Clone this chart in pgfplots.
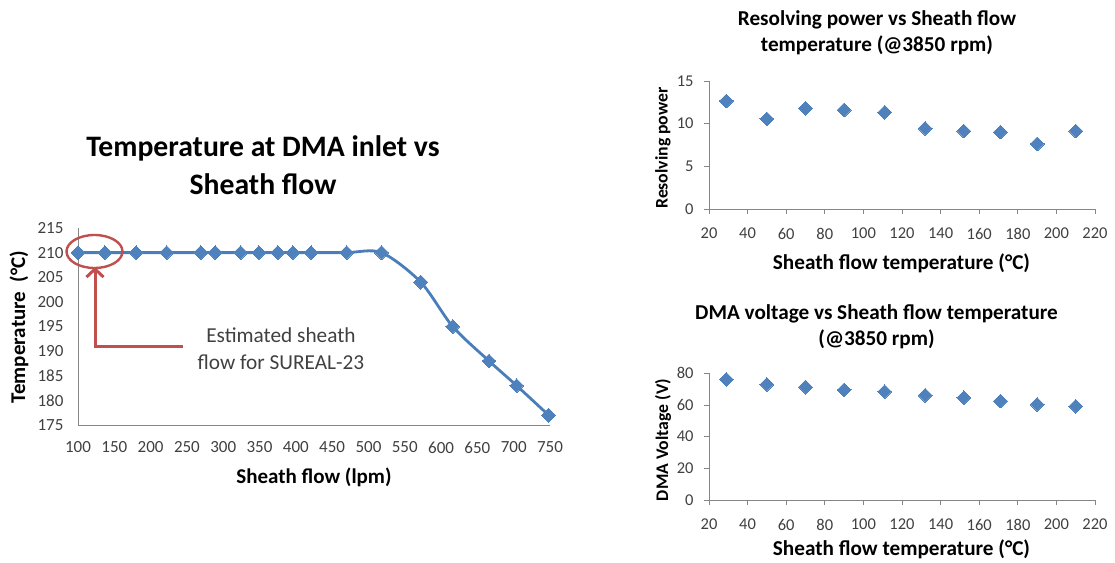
\documentclass[border=0pt]{standalone}
\usepackage{fontspec}
\setmainfont{Carlito}
\usepackage{pgfplots}
\pgfplotsset{compat=1.18}
\usetikzlibrary{arrows.meta}
\definecolor{xlblue}{HTML}{4F81BD}
\definecolor{xlline}{HTML}{4A7EBB}
\definecolor{xlred}{HTML}{C0504D}
\definecolor{axgray}{HTML}{868686}
\definecolor{txt}{HTML}{404040}

\pgfplotsset{xlbase/.style={
  scale only axis, anchor=south west,
  axis x line*=bottom, axis y line*=left,
  axis line style={axgray, line width=0.8pt},
  /pgf/number format/assume math mode=true,
  ticklabel style={font=\fontsize{16.5}{16.5}\selectfont, text=txt},
  tick style={axgray, line width=0.8pt},
  tick align=outside,
  major tick length=5pt,
  clip=false,
}}
\pgfplotsset{xlmark/.style={mark=square*, mark size=4.9pt,
  mark options={rotate=45, fill=xlblue, draw=xlblue, line width=0pt, solid}}}

\pgfplotstableread{
x y
100 210
137 210
180 210
222 210
269 210
289 210
324 210
349 210
375 210
396 210
421 210
470 210
518 210
572 204
616 195
666 188
704 183
748 177
}\flowdata

\pgfplotstableread{
x y
29 12.66
50 10.55
70 11.8
90 11.6
111 11.33
132 9.45
152 9.14
171 9.02
190 7.62
210 9.14
}\resdata

\pgfplotstableread{
x y
29 76.2
50 73.0
70 71.3
90 69.5
111 68.4
132 66.1
152 64.6
171 62.5
190 60.4
210 59.2
}\voltdata

\begin{document}
\begin{tikzpicture}
\path[use as bounding box] (0,0) rectangle (1115pt,562pt);

% ---------- left chart ----------
\begin{axis}[xlbase,
  at={(78pt,137pt)}, width=472pt, height=197pt,
  xmin=100, xmax=750, ymin=175, ymax=215,
  xtick={100,150,...,750}, ytick={175,180,...,215},
  major tick length=0pt,
  ticklabel style={font=\fontsize{17}{17}\selectfont},
  xticklabel style={yshift=-13pt},
  yticklabel style={xshift=-11pt},
]
\addplot[xlline, line width=2.8pt, smooth, xlmark] table[x=x,y=y] {\flowdata};
\end{axis}

\node[font=\bfseries\fontsize{29.7}{38}\selectfont, align=center] at (263pt,397pt)
  {Temperature at DMA inlet vs\\Sheath flow};
\node[font=\bfseries\fontsize{21}{21}\selectfont] at (314pt,85pt) {Sheath flow (lpm)};
\node[font=\bfseries\fontsize{21}{21}\selectfont, rotate=90] at (19pt,235pt) {Temperature\ \ (°C)};

% annotation
\draw[xlred, line width=2.4pt] (94.5pt,310.5pt) ellipse [x radius=28pt, y radius=16.5pt];
\draw[xlred, line width=3pt, -{Straight Barb[length=8pt,width=17pt]}] (183pt,215pt) -- (95pt,215pt) -- (95pt,295pt);
\node[font=\fontsize{21.3}{27}\selectfont, align=center, text=txt] at (281pt,213.5pt)
  {Estimated sheath\\flow for SUREAL-23};

% ---------- top right ----------
\begin{axis}[xlbase,
  at={(709pt,353pt)}, width=386pt, height=128pt,
  xmin=20, xmax=220, ymin=0, ymax=15,
  xtick={20,40,...,220}, ytick={0,5,10,15},
  xticklabel style={yshift=-10.5pt},
  yticklabel style={xshift=-7pt},
]
\addplot[only marks, xlmark] table[x=x,y=y] {\resdata};
\end{axis}
\node[font=\bfseries\fontsize{21.2}{25.5}\selectfont, align=center] at (877pt,529.5pt)
  {Resolving power vs Sheath flow\\temperature (@3850 rpm)};
\node[font=\bfseries\fontsize{21.2}{21.2}\selectfont] at (901.5pt,299pt) {Sheath flow temperature (°C)};
\node[font=\bfseries\fontsize{17.7}{17.7}\selectfont, rotate=90] at (663pt,414pt) {Resolving power};

% ---------- bottom right ----------
\begin{axis}[xlbase,
  at={(709pt,62pt)}, width=386pt, height=126.7pt,
  xmin=20, xmax=220, ymin=0, ymax=80,
  xtick={20,40,...,220}, ytick={0,20,...,80},
  xticklabel style={yshift=-10.5pt},
  yticklabel style={xshift=-7pt},
]
\addplot[only marks, xlmark] table[x=x,y=y] {\voltdata};
\end{axis}
\node[font=\bfseries\fontsize{21.2}{26.7}\selectfont, align=center] at (876.5pt,235.3pt)
  {DMA voltage vs Sheath flow temperature\\(@3850 rpm)};
\node[font=\bfseries\fontsize{21.2}{21.2}\selectfont] at (901.5pt,13pt) {Sheath flow temperature (°C)};
\node[font=\bfseries\fontsize{17.7}{17.7}\selectfont, rotate=90] at (663pt,122pt) {DMA Voltage (V)};
\end{tikzpicture}
\end{document}
